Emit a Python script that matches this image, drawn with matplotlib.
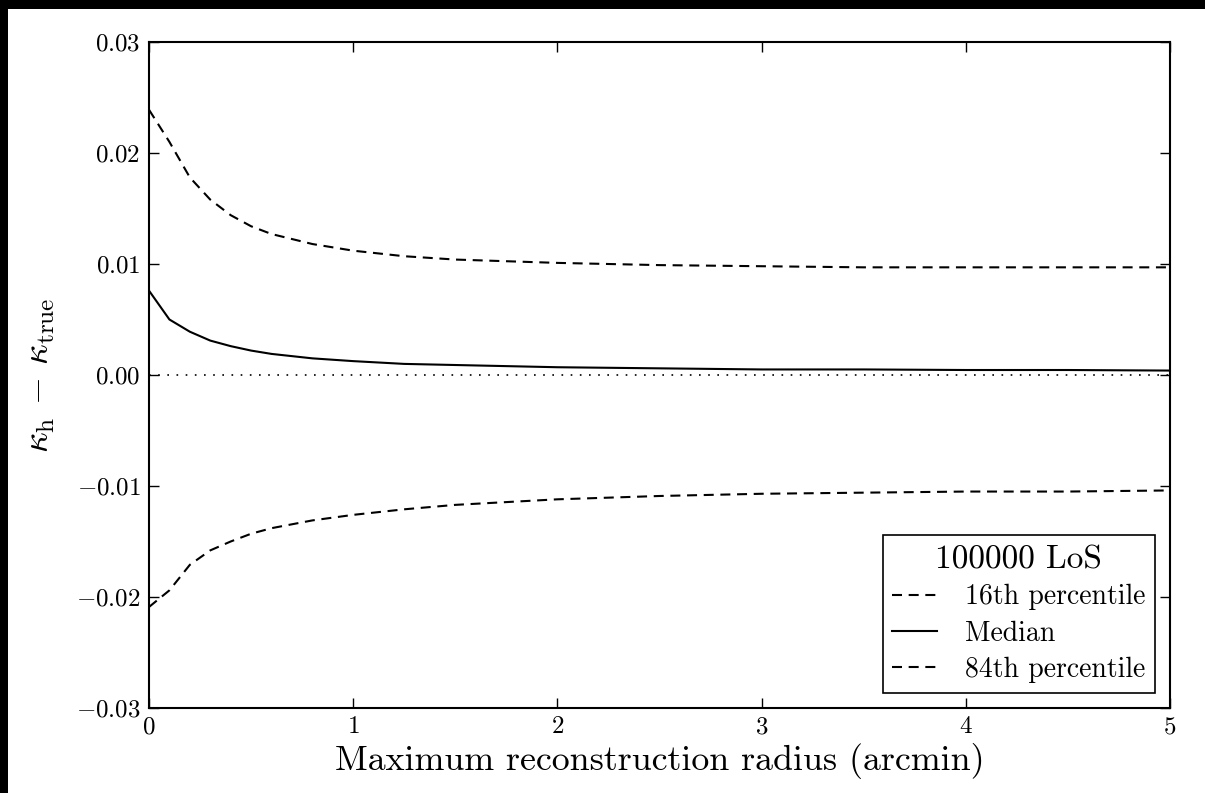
import matplotlib
matplotlib.use('Agg')
import matplotlib.pyplot as plt
from matplotlib.patches import Rectangle
from matplotlib.ticker import FuncFormatter, MultipleLocator

plt.rcParams['font.family'] = 'serif'
plt.rcParams['font.serif'] = ['cmr10']
plt.rcParams['mathtext.fontset'] = 'cm'
plt.rcParams['axes.formatter.use_mathtext'] = True

# radius (arcmin) and percentile curves
radius = [0.0, 0.1, 0.2, 0.3, 0.4, 0.5, 0.6, 0.8, 1.0, 1.25, 1.5, 2.0, 2.5, 3.0, 3.5, 4.0, 4.5, 5.0]
p16 = [-0.0209, -0.0194, -0.0171, -0.0158, -0.0150, -0.0143, -0.0138, -0.0131, -0.0126, -0.0121,
       -0.0117, -0.0112, -0.0109, -0.0107, -0.0106, -0.0105, -0.0105, -0.0104]
median = [0.0076, 0.0050, 0.0039, 0.0031, 0.0026, 0.0022, 0.0019, 0.0015, 0.00125, 0.0010,
          0.0009, 0.0007, 0.0006, 0.0005, 0.0005, 0.00045, 0.00045, 0.0004]
p84 = [0.0239, 0.0210, 0.0178, 0.0158, 0.0144, 0.0134, 0.0127, 0.0118, 0.0112, 0.0107,
       0.0104, 0.0101, 0.0099, 0.0098, 0.0097, 0.0097, 0.0097, 0.0097]

fig = plt.figure(figsize=(12.05, 7.93), dpi=100, facecolor='black')
fig.patches.append(Rectangle((8 / 1205, 0), 1, 1 - 9 / 793, transform=fig.transFigure,
                             facecolor='white', edgecolor='none', zorder=-1))
ax = fig.add_axes([149 / 1205, 1 - 708 / 793, (1170 - 149) / 1205, (708 - 42) / 793])

ax.axhline(0, color='k', lw=1.2, ls=(0, (1, 4.5)))
ax.plot(radius, p16, color='k', lw=1.5, dashes=(4.8, 3.2), label='16th percentile')
ax.plot(radius, median, color='k', lw=1.5, label='Median')
ax.plot(radius, p84, color='k', lw=1.5, dashes=(4.8, 3.2), label='84th percentile')

ax.set_xlim(0, 5)
ax.set_ylim(-0.03, 0.03)
ax.xaxis.set_major_locator(MultipleLocator(1))
ax.yaxis.set_major_locator(MultipleLocator(0.01))
ax.xaxis.set_major_formatter(FuncFormatter(lambda v, p: f'${v:.0f}$'))
ax.yaxis.set_major_formatter(FuncFormatter(lambda v, p: f'${v:.2f}$'))
ax.tick_params(direction='in', top=True, right=True, length=7, width=1, labelsize=18, pad=6)
for s in ax.spines.values():
    s.set_linewidth(1.5)

ax.set_xlabel('Maximum reconstruction radius (arcmin)', fontsize=25.8, labelpad=3)
ax.set_ylabel(r'$\kappa_{\rm h}\, -\, \kappa_{\rm true}$', fontsize=26, labelpad=14)

leg = ax.legend(loc='lower right', title='100000 LoS', fontsize=20, title_fontsize=24,
                fancybox=False, framealpha=1, edgecolor='k', handlelength=1.6,
                handletextpad=1.0, borderaxespad=0.55, labelspacing=0.36, borderpad=0.35)
leg.get_frame().set_linewidth(1.2)

fig.savefig('out.png', dpi=100, facecolor=fig.get_facecolor())
